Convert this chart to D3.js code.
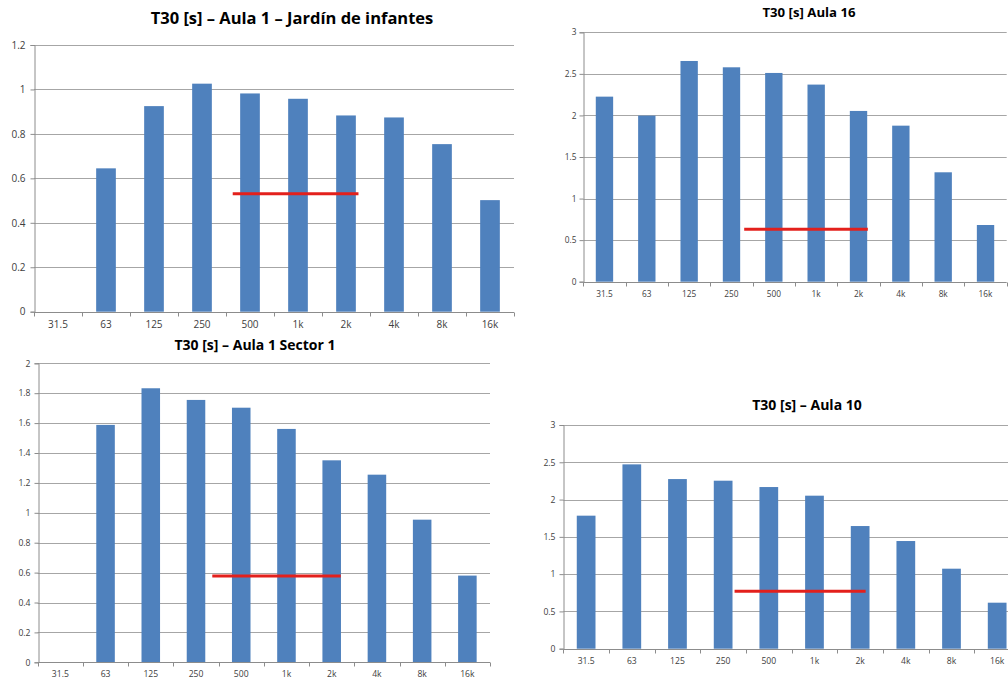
<!DOCTYPE html>
<html><head><meta charset="utf-8">
<script src="https://cdn.jsdelivr.net/npm/d3@7"></script>
<style>
html,body{margin:0;padding:0;background:#fff;}
svg{display:block;}
</style></head>
<body>
<svg id="chart" width="1008" height="679"></svg>
<script>
// ---- data ----
const categories = ["31.5","63","125","250","500","1k","2k","4k","8k","16k"];
const titles = ["T30 [s] – Aula 1 – Jardín de infantes","T30 [s] Aula 16","T30 [s] – Aula 1 Sector 1","T30 [s] – Aula 10"];
const aula1Jardin  = [null, 0.645, 0.925, 1.026, 0.982, 0.958, 0.883, 0.874, 0.754, 0.502];
const aula16       = [2.226, 1.998, 2.655, 2.579, 2.511, 2.371, 2.054, 1.877, 1.316, 0.682];
const aula1Sector1 = [null, 1.588, 1.833, 1.755, 1.703, 1.561, 1.351, 1.255, 0.954, 0.580];
const aula10       = [1.784, 2.472, 2.275, 2.253, 2.168, 2.052, 1.645, 1.444, 1.073, 0.617];
const redLineValues = [0.531, 0.630, 0.577, 0.769];
const yMaxes  = [1.2, 3, 2, 3];
const ySteps  = [0.2, 0.5, 0.2, 0.5];

// ---- layout ----
const panels = [
  {series: aula1Jardin, left: 34, right: 514, top: 45, bottom: 311.7, title:{x:292, y:24, size:16.5}, tick:10, xlabY:328, ylabX:25,
   red:{s:"500", sf:0.14, e:"2k", ef:0.76}},
  {series: aula16, left: 583.3, right: 1006.7, top: 32.3, bottom: 281.7, title:{x:809, y:17, size:13.2}, tick:8.3, xlabY:296.5, ylabX:576,
   red:{s:"250", sf:0.80, e:"2k", ef:0.72}},
  {series: aula1Sector1, left: 37.7, right: 490, top: 363.3, bottom: 662.3, title:{x:255, y:350, size:14}, tick:8.6, xlabY:676.5, ylabX:30,
   red:{s:"250", sf:0.86, e:"2k", ef:0.70}},
  {series: aula10, left: 563.3, right: 1020, top: 425, bottom: 648.7, title:{x:807, y:409.5, size:14}, tick:8.6, xlabY:664, ylabX:555,
   red:{s:"250", sf:0.75, e:"2k", ef:0.62}}
];

const svg = d3.select("#chart");
const gridColor = "#a6a6a6";
const axisColor = "#8c8c8c";
const barColor = "#4f81bd";
const redColor = "#e3201c";
const labelColor = "#404040";
const fontFam = "'Open Sans', 'Liberation Sans', sans-serif";

panels.forEach((p, i) => {
  const g = svg.append("g");
  const x = d3.scaleBand().domain(categories).range([p.left, p.right]).padding(0);
  const y = d3.scaleLinear().domain([0, yMaxes[i]]).range([p.bottom, p.top]);
  const ticks = d3.range(0, yMaxes[i] + ySteps[i]/2, ySteps[i]);
  const fmt = v => String(+v.toFixed(1));

  // gridlines
  g.selectAll("line.grid").data(ticks.filter(t => t > 0)).join("line")
    .attr("x1", p.left).attr("x2", p.right)
    .attr("y1", d => Math.round(y(d)) + 0.5).attr("y2", d => Math.round(y(d)) + 0.5)
    .attr("stroke", gridColor).attr("stroke-width", 1);

  // y axis (ticks outside, labels)
  const yAxis = d3.axisLeft(y).tickValues(ticks).tickSize(4).tickFormat(fmt);
  const ya = g.append("g").attr("transform", `translate(${Math.round(p.left)+0.5},0)`).call(yAxis);
  ya.select(".domain").attr("stroke", axisColor);
  ya.selectAll(".tick line").attr("stroke", axisColor);
  ya.selectAll(".tick text").attr("fill", labelColor).attr("font-size", p.tick).attr("font-family", fontFam)
    .attr("x", -(Math.round(p.left) - p.ylabX));

  // bars
  const bw = x.bandwidth() * 0.41;
  g.selectAll("rect.bar").data(p.series.map((v, k) => ({c: categories[k], v})).filter(d => d.v != null)).join("rect")
    .attr("x", d => x(d.c) + (x.bandwidth() - bw) / 2)
    .attr("width", bw)
    .attr("y", d => y(d.v))
    .attr("height", d => y(0) - y(d.v))
    .attr("fill", barColor);

  // x axis
  const xa = g.append("g").attr("transform", `translate(0,${Math.round(p.bottom)+0.5})`);
  xa.append("line").attr("x1", p.left).attr("x2", p.right).attr("stroke", axisColor);
  const bounds = categories.map(c => x(c)).concat([p.right]);
  xa.selectAll("line.tk").data(bounds).join("line")
    .attr("x1", d => Math.round(d) + 0.5).attr("x2", d => Math.round(d) + 0.5)
    .attr("y1", 0).attr("y2", 4).attr("stroke", axisColor);
  g.selectAll("text.xl").data(categories).join("text")
    .attr("x", d => x(d) + x.bandwidth() / 2)
    .attr("y", p.xlabY)
    .attr("text-anchor", "middle")
    .attr("fill", labelColor).attr("font-size", p.tick).attr("font-family", fontFam)
    .text(d => d);

  // red reference line
  const rv = redLineValues[i];
  g.append("line")
    .attr("x1", x(p.red.s) + p.red.sf * x.bandwidth())
    .attr("x2", x(p.red.e) + p.red.ef * x.bandwidth())
    .attr("y1", y(rv)).attr("y2", y(rv))
    .attr("stroke", redColor).attr("stroke-width", 3);

  // title
  g.append("text").attr("x", p.title.x).attr("y", p.title.y)
    .attr("text-anchor", "middle").attr("font-weight", "bold")
    .attr("font-size", p.title.size).attr("font-family", fontFam).attr("fill", "#000")
    .text(titles[i]);
});
</script>
</body></html>
